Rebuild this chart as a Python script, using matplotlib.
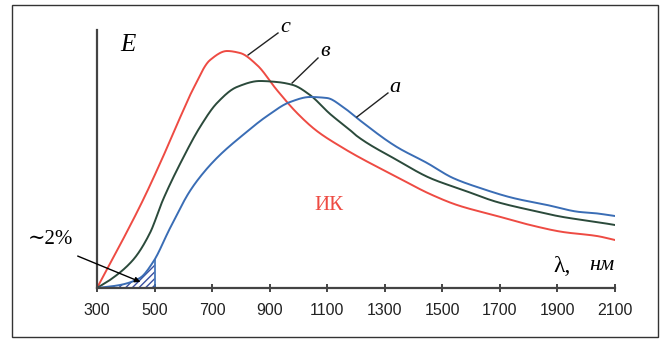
import numpy as np
import matplotlib.pyplot as plt
from matplotlib.patches import Rectangle

# curve c (red)
lam_c = [300, 380, 460, 529, 588, 634, 693, 752, 797, 856, 925, 995, 1064,
         1155, 1203, 1342, 1457, 1551, 1690, 1805, 1919, 2037, 2100]
e_c = [0, 43, 88, 131, 170, 199, 228, 237, 235, 223, 198, 175, 157,
       140, 132, 111, 94, 83, 72, 63, 56, 52, 48]

# curve b (dark green)
lam_b = [300, 345, 425, 484, 529, 599, 658, 717, 786, 866, 925, 981, 1040,
         1110, 1179, 1203, 1342, 1457, 1572, 1690, 1805, 1919, 2037, 2100]
e_b = [0, 8, 28, 55, 88, 130, 161, 185, 201, 207, 206, 203, 193,
       174, 158, 152, 128, 110, 98, 86, 78, 71, 66, 63]

# curve a (blue)
lam_a = [300, 380, 449, 495, 554, 623, 675, 727, 807, 891, 971, 1040, 1099,
         1155, 1203, 1342, 1447, 1537, 1631, 1746, 1864, 1978, 2024, 2100]
e_a = [0, 3, 10, 26, 60, 97, 117, 133, 153, 172, 186, 191, 190,
       181, 170, 141, 125, 110, 100, 90, 83, 76, 75, 72]

ticks = [300, 500, 700, 900, 1100, 1300, 1500, 1700, 1900, 2100]

red = '#ee4b43'
green = '#2b4a3b'
blue = '#3a6db5'


def pchip(x, y, xn):
    # monotone cubic, only to draw smooth lines through the read points
    x = np.asarray(x, float)
    y = np.asarray(y, float)
    h = np.diff(x)
    d = np.diff(y) / h
    m = np.zeros_like(y)
    for k in range(1, len(x) - 1):
        if d[k - 1] * d[k] > 0:
            w1 = 2 * h[k] + h[k - 1]
            w2 = h[k] + 2 * h[k - 1]
            m[k] = (w1 + w2) / (w1 / d[k - 1] + w2 / d[k])
    m[0] = d[0]
    m[-1] = d[-1]
    i = np.clip(np.searchsorted(x, xn) - 1, 0, len(x) - 2)
    t = (xn - x[i]) / h[i]
    h00 = 2 * t**3 - 3 * t**2 + 1
    h10 = t**3 - 2 * t**2 + t
    h01 = -2 * t**3 + 3 * t**2
    h11 = t**3 - t**2
    return h00 * y[i] + h10 * h[i] * m[i] + h01 * y[i + 1] + h11 * h[i] * m[i + 1]


plt.rcParams['font.family'] = ['Liberation Serif', 'DejaVu Serif']

fig = plt.figure(figsize=(6.6, 3.45), dpi=100)
fig.patches.append(Rectangle((12 / 660, 8 / 345), 646 / 660, 332 / 345,
                             transform=fig.transFigure, fill=False,
                             edgecolor='#333333', lw=1.0))

ax = fig.add_axes([97 / 660, 57 / 345, 518 / 660, 258 / 345])
ax.set_xlim(300, 2100)
ax.set_ylim(0, 258)

xx = np.linspace(300, 2100, 600)
ax.plot(xx, pchip(lam_c, e_c, xx), color=red, lw=1.4)
ax.plot(xx, pchip(lam_b, e_b, xx), color=green, lw=1.4)
ax.plot(xx, pchip(lam_a, e_a, xx), color=blue, lw=1.4)

# hatched area under curve a, 300-500 nm
xs = np.linspace(300, 500, 60)
ys = pchip(lam_a, e_a, xs)
ax.fill_between(xs, 0, ys, facecolor='none', edgecolor='#3a4fa0', hatch='/////', lw=0)
ax.plot([500, 500], [0, ys[-1]], color=blue, lw=1.2)

for s in ['top', 'right']:
    ax.spines[s].set_visible(False)
ax.spines['left'].set_color('#444444')
ax.spines['bottom'].set_color('#444444')
ax.spines['left'].set_linewidth(1.6)
ax.spines['bottom'].set_linewidth(1.6)
ax.set_yticks([])
ax.set_xticks(ticks)
ax.set_xticklabels([str(t) for t in ticks], family='Liberation Sans', fontsize=11.5,
                   color='#222222')
ax.tick_params(axis='x', direction='inout', length=6, width=1.4, color='#444444', pad=8)

# labels
ax.text(380, 243, 'E', fontsize=18, style='italic', va='center', ha='left')
ax.text(2098, 22, 'нм', fontsize=16, style='italic', va='center', ha='right')
ax.text(1945, 22, 'λ,', fontsize=17, va='center', ha='right')
ax.text(1105, 83, 'ИК', fontsize=15, color=red, va='center', ha='center')

ax.annotate('', xy=(460, 5), xytext=(224, 33),
            arrowprops=dict(arrowstyle='-|>', color='black', lw=1.0,
                            mutation_scale=8), annotation_clip=False)
ax.text(137, 48, '∼2%', fontsize=15, va='center', ha='center', clip_on=False)

# curve leaders
for (x0, y0, x1, y1, lab, tx, ty) in [
        (825, 233, 929, 255, 'c', 953, 260),
        (978, 205, 1068, 230, 'в', 1092, 236),
        (1203, 171, 1311, 195, 'а', 1335, 200)]:
    ax.plot([x0, x1], [y0, y1], color='#222222', lw=1.0, clip_on=False)
    ax.text(tx, ty, lab, fontsize=16, style='italic', va='center', ha='center',
            clip_on=False)

fig.savefig('out.png', dpi=100)
